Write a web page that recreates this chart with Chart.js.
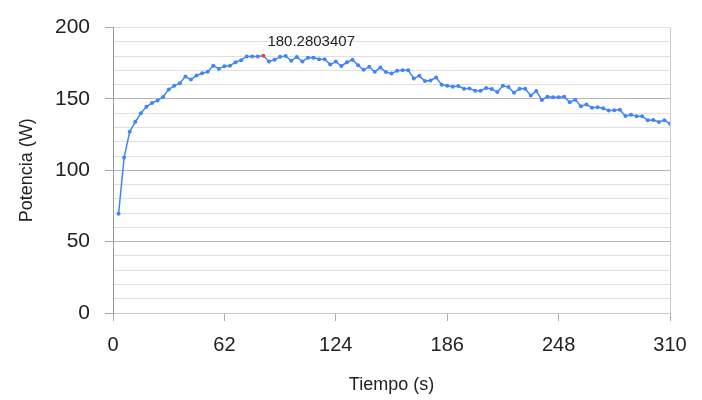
<!DOCTYPE html>
<html>
<head>
<meta charset="utf-8">
<script src="https://cdn.jsdelivr.net/npm/chart.js@4.4.1/dist/chart.umd.min.js"></script>
<style>
  html, body { margin: 0; padding: 0; background: #fff; }
  #wrap { width: 702px; height: 400px; }
</style>
</head>
<body>
<div id="wrap"><canvas id="myChart" width="702" height="400"></canvas></div>
<script>
// tiempo (s)
const tiempo = [
  3.1, 6.2, 9.3, 12.4, 15.5, 18.6, 21.7, 24.8, 27.9, 31,
  34.1, 37.2, 40.3, 43.4, 46.5, 49.6, 52.7, 55.8, 58.9, 62,
  65.1, 68.2, 71.3, 74.4, 77.5, 80.6, 83.7, 86.8, 89.9, 93,
  96.1, 99.2, 102.3, 105.4, 108.5, 111.6, 114.7, 117.8, 120.9, 124,
  127.1, 130.2, 133.3, 136.4, 139.5, 142.6, 145.7, 148.8, 151.9, 155,
  158.1, 161.2, 164.3, 167.4, 170.5, 173.6, 176.7, 179.8, 182.9, 186,
  189.1, 192.2, 195.3, 198.4, 201.5, 204.6, 207.7, 210.8, 213.9, 217,
  220.1, 223.2, 226.3, 229.4, 232.5, 235.6, 238.7, 241.8, 244.9, 248,
  251.1, 254.2, 257.3, 260.4, 263.5, 266.6, 269.7, 272.8, 275.9, 279,
  282.1, 285.2, 288.3, 291.4, 294.5, 297.6, 300.7, 303.8, 306.9, 310
];

// potencia (W)
const potencia = [
  69.5, 109, 127, 134, 140, 144.5, 147.2, 149, 151.4, 156.7,
  159.2, 161, 165.7, 163.6, 166.5, 168, 169, 173.3, 171.2, 173,
  173.3, 175.8, 177.2, 179.8, 179.8, 179.8, 180.2803407, 176.3, 177.4, 179.5,
  180.1, 176.8, 179.4, 176.2, 178.9, 178.9, 177.8, 177.8, 174.1, 176.2,
  173.1, 175.7, 177.5, 173.6, 170.4, 172.5, 169, 172, 168.8, 167.8,
  169.7, 170.1, 170.1, 164.4, 166.2, 162.5, 163, 165, 160, 159.3,
  158.6, 159, 157.2, 157.4, 155.8, 155.8, 157.6, 156.9, 154.8, 159.2,
  158.3, 154.4, 157.2, 157.2, 152.5, 155.5, 149.3, 151.6, 151.2, 151.2,
  151.6, 147.7, 149.5, 144.9, 146.1, 143.8, 144.2, 143.5, 141.9, 142.1,
  142.4, 138, 138.9, 137.8, 137.8, 135, 135.2, 133.8, 135, 132.7
];

const xTicks = [0, 62, 124, 186, 248, 310];
const yTicks = [0, 50, 100, 150, 200];

const FONT = 'Arial, "Liberation Sans", sans-serif';
const pico = potencia.indexOf(Math.max(...potencia));

// etiqueta del valor maximo
const etiquetaMax = {
  id: 'etiquetaMax',
  afterDatasetsDraw(chart) {
    const pt = chart.getDatasetMeta(0).data[pico];
    const c = chart.ctx;
    c.save();
    c.font = '15px ' + FONT;
    c.fillStyle = '#222';
    c.textAlign = 'left';
    c.textBaseline = 'bottom';
    c.fillText(String(potencia[pico]), pt.x + 4, pt.y - 6);
    c.restore();
  }
};

function graficar(ctx) {
  const puntos = tiempo.map((t, i) => ({ x: t, y: potencia[i] }));
  new Chart(ctx, {
    type: 'line',
    data: {
      datasets: [{
        label: 'Potencia',
        data: puntos,
        borderColor: '#4285f4',
        borderWidth: 1.5,
        pointRadius: 2,
        pointBorderWidth: 0,
        pointBackgroundColor: c => c.dataIndex === pico ? '#ea4335' : '#4285f4',
        tension: 0
      }]
    },
    options: {
      responsive: false,
      animation: false,
      layout: { padding: { left: 0, right: 32, top: 24, bottom: 0 } },
      plugins: { legend: { display: false }, tooltip: { enabled: false } },
      scales: {
        x: {
          type: 'linear',
          min: 0, max: 310,
          afterBuildTicks: s => { s.ticks = xTicks.map(v => ({ value: v })); },
          afterFit: s => { s.height = 87; },
          ticks: { color: '#222', font: { size: 20, family: FONT }, padding: 12, maxRotation: 0, autoSkip: false },
          grid: {
            color: c => c.tick && c.tick.value === 310 ? '#cccccc' : 'rgba(0,0,0,0)',
            tickColor: '#aaaaaa',
            tickLength: 8
          },
          border: { color: '#cccccc' },
          title: { display: true, text: 'Tiempo (s)', color: '#222', font: { size: 18, family: FONT }, padding: { top: 0, bottom: 4 } }
        },
        y: {
          min: 0, max: 200,
          ticks: {
            stepSize: 10,
            autoSkip: false,
            color: '#222',
            font: { size: 21, family: FONT },
            padding: 15,
            callback: v => yTicks.includes(v) ? v : ''
          },
          afterFit: s => { s.width = 113; },
          grid: {
            color: c => (c.tick.value % 50 === 0 && c.tick.value > 0 && c.tick.value < 200) ? '#b5b5b5' : '#e0e0e0',
            tickColor: c => c.tick.value % 50 === 0 ? '#aaaaaa' : 'rgba(0,0,0,0)',
            tickLength: 8
          },
          border: { color: '#999999' },
          title: { display: true, text: 'Potencia (W)', color: '#222', font: { size: 18, family: FONT }, padding: { top: 16, bottom: 0 } }
        }
      }
    },
    plugins: [etiquetaMax]
  });
}

function getChars() {
  const ctx = document.getElementById('myChart').getContext('2d');
  graficar(ctx);
}
getChars();
</script>
</body>
</html>
